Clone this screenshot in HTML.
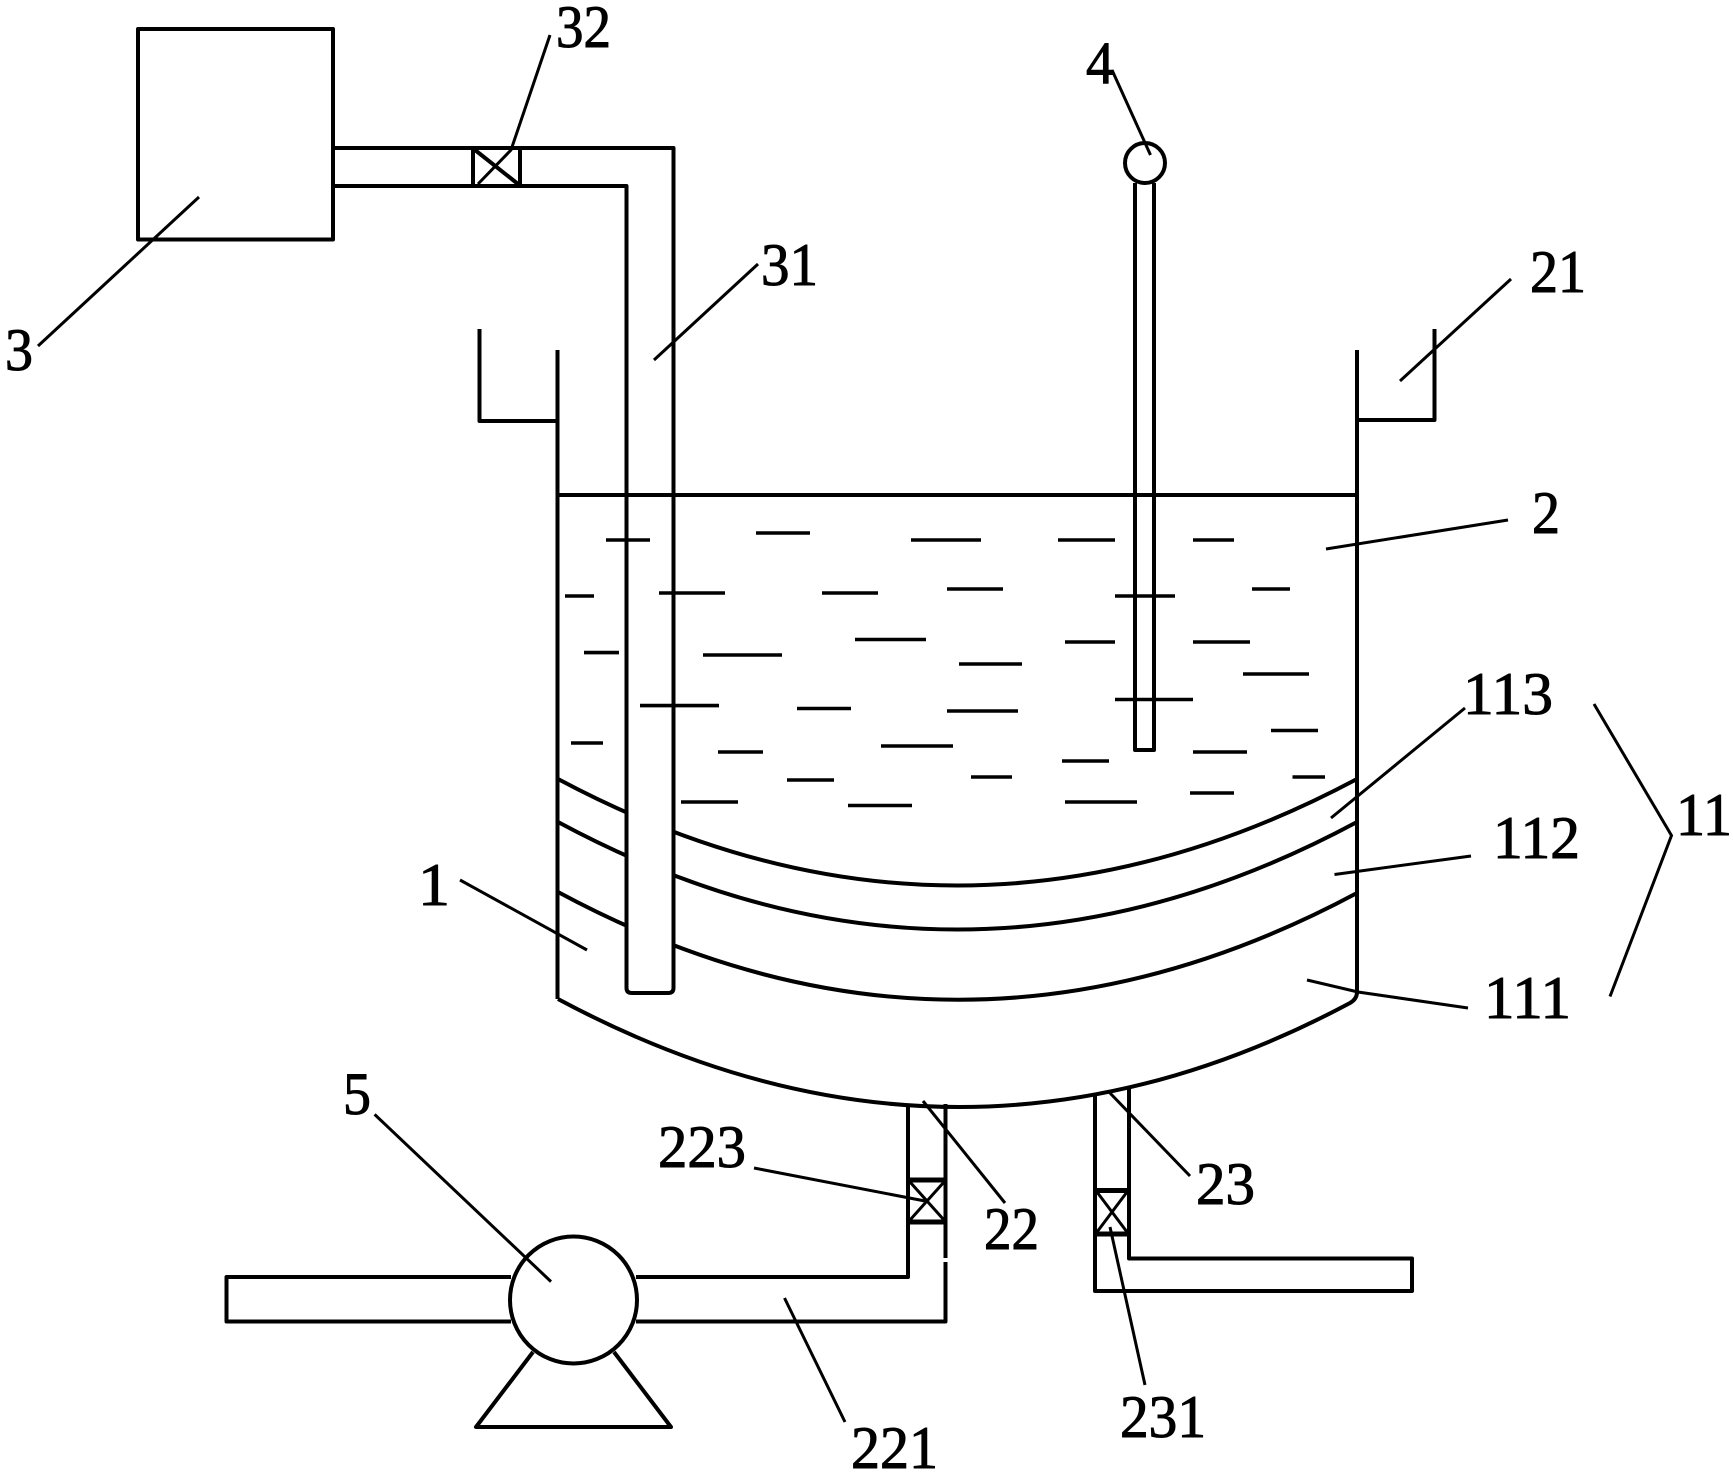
<!DOCTYPE html>
<html>
<head>
<meta charset="utf-8">
<style>
html,body{margin:0;padding:0;background:#fff;}
svg{display:block;}
text{font-family:"Liberation Serif",serif;font-size:60px;fill:#000;stroke:#000;stroke-width:1;}
</style>
</head>
<body>
<svg width="1733" height="1472" viewBox="0 0 1733 1472" xmlns="http://www.w3.org/2000/svg">
<rect width="1733" height="1472" fill="#fff" stroke="none"/>
<g fill="none" stroke="#000" stroke-width="4" stroke-linejoin="round">
  <!-- tank layers -->
  <path d="M558 779 Q957 992 1357 779"/>
  <path d="M558 822 Q957 1037 1357 822"/>
  <path d="M558 892 Q957 1107 1357 893"/>
  <path d="M558 999 Q957 1213 1350 1003 Q1357 999 1357 992"/>
  <rect x="628" y="700" width="44" height="292" fill="#fff" stroke="none"/>
  <!-- walls and funnels -->
  <path d="M557.5 350V999"/>
  <path d="M1357 350V994"/>
  <path d="M479.5 329V421H557.5"/>
  <path d="M1434.5 329V420H1357"/>
  <path d="M558 495H1357"/>
  <!-- tank 3 and feed pipe -->
  <path d="M138 29H333V239.5H138Z"/>
  <path d="M333 148H673.5V988Q673.5 993 668 993H632Q626.5 993 626.5 988V186H333"/>
  <path d="M473 148V186M520 148V186M475 150L518 184"/>
  <!-- thermometer -->
  <path d="M1135 183V750H1154V183"/>
  <circle cx="1145" cy="163" r="20"/>
  <!-- pipe 22 -->
  <path d="M908 1104V1277H636"/>
  <path d="M945.5 1104V1258M945.5 1262V1321.5H636"/>
  <path d="M908 1180H945.5M908 1222H945.5" stroke-width="5"/>
  <path d="M910 1182L944 1220M944 1182L910 1220" stroke-width="3"/>
  <!-- pipe 23 -->
  <path d="M1095 1093V1291H1412V1258.5H1129V1087"/>
  <path d="M1095 1190.5H1129M1095 1234H1129" stroke-width="5"/>
  <path d="M1097 1192L1127 1232M1127 1192L1097 1232" stroke-width="3"/>
  <!-- pump -->
  <path d="M511 1277H226.5V1321.5H511"/>
  <circle cx="573.5" cy="1300" r="63.5"/>
  <path d="M533 1352L476 1427H671L614 1352"/>
</g>
<!-- liquid dashes -->
<g stroke="#000" stroke-width="3.6" fill="none">
  <path d="M606 540H650M756 533H810M565 596H594M659 593H725M822 593H878M584 652.6H619M703 655H782M855 639.5H926M640 705.6H719M797 708.5H851"/>
  <path d="M911 540H981M1058 540H1115M1193 540H1234M947 589H1003M1115 596H1175M1252 589H1290M1065 642H1115M1193 642H1250M959 664H1022M1243 674H1309M1115 699.5H1193M947 711H1018M1271 730.5H1318"/>
  <path d="M571 743H603M718 752H763M787 780H834M681 802H738M848 805.5H912"/>
  <path d="M881 746H953M1062 761H1109M1193 752H1247M971 777H1012M1292.5 777H1325M1065 802H1137M1190 793H1234"/>
</g>
<!-- leaders -->
<g stroke="#000" stroke-width="3" fill="none">
  <path d="M550 35L511 150L478 184"/>
  <path d="M199 197L38 346"/>
  <path d="M758 264L654 360"/>
  <path d="M1112 70L1150.5 155"/>
  <path d="M1511 279L1400 381"/>
  <path d="M1508 520L1326 549"/>
  <path d="M1465 708L1331 818"/>
  <path d="M1471 856L1334.5 874.5"/>
  <path d="M1307 980L1358 992L1468 1008"/>
  <path d="M1594 704L1671.5 835.5L1610 996.5"/>
  <path d="M460 880L587 950"/>
  <path d="M374.6 1114.4L551 1281.6"/>
  <path d="M754 1168L925 1201"/>
  <path d="M784.5 1298L845 1422"/>
  <path d="M923 1101L1005 1203"/>
  <path d="M1109 1092L1190 1176"/>
  <path d="M1110 1227L1145 1385"/>
</g>
<!-- labels -->
<text x="556" y="47" textLength="55" lengthAdjust="spacingAndGlyphs">32</text>
<text x="5" y="370" textLength="28" lengthAdjust="spacingAndGlyphs">3</text>
<text x="761" y="285" textLength="57" lengthAdjust="spacingAndGlyphs">31</text>
<text x="1086" y="83" textLength="28" lengthAdjust="spacingAndGlyphs">4</text>
<text x="1530" y="292" textLength="56" lengthAdjust="spacingAndGlyphs">21</text>
<text x="1532" y="533" textLength="28" lengthAdjust="spacingAndGlyphs">2</text>
<text x="1463" y="714" textLength="90" lengthAdjust="spacingAndGlyphs">113</text>
<text x="1493" y="858" textLength="87" lengthAdjust="spacingAndGlyphs">112</text>
<text x="1484" y="1018" textLength="87" lengthAdjust="spacingAndGlyphs">111</text>
<text x="1676" y="835" textLength="56" lengthAdjust="spacingAndGlyphs">11</text>
<text x="418" y="905" textLength="32" lengthAdjust="spacingAndGlyphs">1</text>
<text x="343" y="1114" textLength="28" lengthAdjust="spacingAndGlyphs">5</text>
<text x="658" y="1167" textLength="88" lengthAdjust="spacingAndGlyphs">223</text>
<text x="984" y="1249" textLength="55" lengthAdjust="spacingAndGlyphs">22</text>
<text x="1196" y="1204" textLength="59" lengthAdjust="spacingAndGlyphs">23</text>
<text x="1120" y="1437" textLength="86" lengthAdjust="spacingAndGlyphs">231</text>
<text x="851" y="1468" textLength="87" lengthAdjust="spacingAndGlyphs">221</text>
</svg>
</body>
</html>
